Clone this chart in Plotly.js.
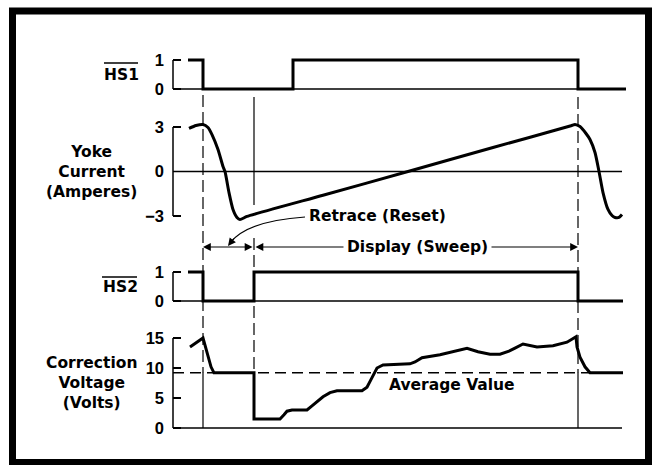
<!DOCTYPE html>
<html>
<head>
<meta charset="utf-8">
<script src="https://cdn.plot.ly/plotly-3.0.1.min.js"></script>
<style>html,body{margin:0;padding:0;background:#fff;}#chart{width:654px;height:465px;}</style>
</head>
<body>
<div id="chart"></div>
<script>
// ---- data (time in arbitrary units along the horizontal line period) ----
const eventTimes = [30, 81, 405];          // retrace start, sweep start, sweep end
const hs1Time  = [15, 30, 120, 405, 453];
const hs1Level = [1, 0, 1, 0, 0];
const hs2Time  = [15, 30, 81, 405, 450];
const hs2Level = [1, 0, 1, 0, 0];
const yokeTime = [16, 23, 30, 35, 39, 45, 50, 52, 56, 60, 64, 67, 74, 150, 235, 320, 398, 402, 407, 413, 417, 422, 426, 430, 435, 439, 442, 446, 449];
const yokeAmps = [2.90, 3.10, 3.17, 2.97, 2.49, 1.48, 0.34, 0, -1.42, -2.56, -3.10, -3.24, -3.03, -1.60, 0, 1.62, 3.08, 3.17, 3.03, 2.56, 2.16, 1.28, 0, -1.42, -2.56, -2.97, -3.10, -3.10, -2.90];
const corrTime  = [17, 30, 32, 35, 38, 41, 81, 81, 107, 111, 114, 119, 134, 139, 145, 150, 157, 164, 189, 194, 199, 204, 210, 237, 242, 249, 267, 280, 294, 305, 317, 327, 336, 342, 350, 364, 380, 394, 403, 404, 407, 412, 417, 450];
const corrVolts = [13.5, 15.0, 13.8, 11.8, 10.2, 9.2, 9.2, 1.5, 1.5, 2.2, 2.8, 3.0, 3.0, 3.7, 4.5, 5.2, 5.9, 6.2, 6.2, 6.8, 8.4, 10.0, 10.5, 10.7, 11.0, 11.7, 12.2, 12.7, 13.3, 12.7, 12.3, 12.3, 12.8, 13.3, 14.0, 13.5, 13.7, 14.3, 15.2, 13.5, 11.8, 10.2, 9.2, 9.2];
const averageValue = 9.2;
const hsTicks = [0, 1], hsTickText = ['0', '1'];
const yokeTicks = [-3, 0, 3], yokeTickText = ['\u22123', '0', '3'];
const corrTicks = [0, 5, 10, 15], corrTickText = ['0', '5', '10', '15'];

// ---- layout helpers (pixel -> paper fraction) ----
const W = 654, H = 465;
const fx = p => p / W;
const fy = p => 1 - p / H;
const dom = (top, bot) => [1 - bot / H, 1 - top / H];
const TICKFONT = 'Liberation Sans, Arial, Helvetica, sans-serif';
const LABELFONT = 'DejaVu Sans, Verdana, sans-serif';
const tickFont = {family: TICKFONT, size: 16.5, color: '#000', weight: 700};
const labelFont = {family: LABELFONT, size: 15.5, color: '#000', weight: 700};

const yCommon = {
  anchor: 'x', showgrid: false, zeroline: false, showline: false,
  ticks: 'inside', ticklen: 8, tickwidth: 1.5, tickcolor: '#000',
  tickfont: tickFont, ticklabelstandoff: 8, fixedrange: true
};

const line = (w) => ({color: '#000', width: w});
const traces = [
  {x: hs1Time, y: hs1Level, xaxis: 'x', yaxis: 'y', mode: 'lines', line: Object.assign(line(3), {shape: 'hv'}), hoverinfo: 'skip'},
  {x: yokeTime, y: yokeAmps, xaxis: 'x', yaxis: 'y2', mode: 'lines', line: Object.assign(line(3), {shape: 'spline', smoothing: 0.6}), hoverinfo: 'skip'},
  {x: hs2Time, y: hs2Level, xaxis: 'x', yaxis: 'y3', mode: 'lines', line: Object.assign(line(3), {shape: 'hv'}), hoverinfo: 'skip'},
  {x: corrTime, y: corrVolts, xaxis: 'x', yaxis: 'y4', mode: 'lines', line: Object.assign(line(3), {shape: 'linear'}), hoverinfo: 'skip'}
];

const shapes = [];
// axis brackets
[['y', 0, 1], ['y2', -3, 3], ['y3', 0, 1], ['y4', 0, 15]].forEach(([ya, a, b]) => {
  shapes.push({type: 'line', xref: 'paper', yref: ya, x0: fx(173), x1: fx(173), y0: a, y1: b, line: line(1.5)});
});
// baselines
[['y', 453], ['y2', 449], ['y3', 450], ['y4', 449]].forEach(([ya, xe]) => {
  shapes.push({type: 'line', xref: 'x', yref: ya, x0: 0, x1: xe, y0: 0, y1: 0, line: line(1.5)});
});
// average value
shapes.push({type: 'line', xref: 'x', yref: 'y4', x0: 0, x1: 450, y0: averageValue, y1: averageValue, line: {color: '#000', width: 1.5, dash: '11px,6px'}});
// vertical event lines
const dashV = {color: '#000', width: 1.2, dash: '12px,5px'};
shapes.push({type: 'line', xref: 'x', yref: 'paper', x0: eventTimes[0], x1: eventTimes[0], y0: fy(95), y1: fy(373), line: dashV});
shapes.push({type: 'line', xref: 'x', yref: 'y4', x0: eventTimes[0], x1: eventTimes[0], y0: averageValue, y1: 0, line: line(1.2)});
shapes.push({type: 'line', xref: 'x', yref: 'paper', x0: eventTimes[1], x1: eventTimes[1], y0: fy(97), y1: fy(205), line: line(1.2)});
shapes.push({type: 'line', xref: 'x', yref: 'paper', x0: eventTimes[1], x1: eventTimes[1], y0: fy(238), y1: fy(373), line: dashV});
shapes.push({type: 'line', xref: 'x', yref: 'paper', x0: eventTimes[2], x1: eventTimes[2], y0: fy(97), y1: fy(373), line: dashV});
shapes.push({type: 'line', xref: 'x', yref: 'y4', x0: eventTimes[2], x1: eventTimes[2], y0: averageValue, y1: 0, line: line(1.2)});
// overlines for HS1 / HS2
shapes.push({type: 'line', xref: 'paper', yref: 'paper', x0: fx(104), x1: fx(138), y0: fy(63), y1: fy(63), line: line(1.5)});
shapes.push({type: 'line', xref: 'paper', yref: 'paper', x0: fx(102), x1: fx(137), y0: fy(277), y1: fy(277), line: line(1.5)});
// retrace leader curve
shapes.push({type: 'path', xref: 'paper', yref: 'paper',
  path: `M ${fx(305)},${fy(217)} Q ${fx(247)},${fy(221)} ${fx(230)},${fy(243)}`, line: line(1.2)});
// frame
shapes.push({type: 'rect', xref: 'paper', yref: 'paper', x0: fx(12.5), x1: fx(648.5), y0: fy(462.5), y1: fy(11), line: line(7)});

const txt = (px, py, text, xanchor) => ({xref: 'paper', yref: 'paper', x: fx(px), y: fy(py), text: text,
  xanchor: xanchor || 'center', yanchor: 'middle', showarrow: false, font: labelFont});

const annotations = [
  txt(121, 75, 'HS1'),
  txt(120, 287, 'HS2'),
  txt(91, 172, 'Yoke<br>Current<br>(Amperes)'),
  txt(91, 383, 'Correction<br>Voltage<br>(Volts)'),
  // retrace double arrow
  {xref: 'x', yref: 'paper', x: eventTimes[0], y: fy(247), axref: 'x', ayref: 'pixel', ax: eventTimes[1], ay: 0,
   text: '', showarrow: true, arrowside: 'end+start', arrowhead: 2, arrowsize: 1.3, arrowwidth: 1.2, arrowcolor: '#000'},
  // display double arrow
  {xref: 'x', yref: 'paper', x: eventTimes[2], y: fy(247), axref: 'x', ayref: 'pixel', ax: eventTimes[1], ay: 0,
   text: '', showarrow: true, arrowside: 'end+start', arrowhead: 2, arrowsize: 1.3, arrowwidth: 1.2, arrowcolor: '#000'},
  // leader arrowhead
  {xref: 'paper', yref: 'paper', x: fx(228), y: fy(246), ax: 7, ay: -9, text: '', showarrow: true,
   arrowhead: 2, arrowsize: 1.3, arrowwidth: 1.2, arrowcolor: '#000'},
  txt(307, 216, 'Retrace (Reset)', 'left'),
  Object.assign(txt(343, 247, 'Display (Sweep)', 'left'), {bgcolor: '#fff', borderpad: 3}),
  txt(387, 385, 'Average Value', 'left')
];

const layout = {
  width: W, height: H, margin: {l: 0, r: 0, t: 0, b: 0},
  paper_bgcolor: '#fff', plot_bgcolor: 'rgba(0,0,0,0)', showlegend: false,
  font: labelFont,
  xaxis: {domain: [fx(173), fx(627)], range: [0, 454], visible: false, fixedrange: true},
  yaxis:  Object.assign({}, yCommon, {domain: dom(55, 94),  range: [-0.172, 1.172], tickvals: hsTicks, ticktext: hsTickText}),
  yaxis2: Object.assign({}, yCommon, {domain: dom(120, 226), range: [-3.674, 3.472], tickvals: yokeTicks, ticktext: yokeTickText}),
  yaxis3: Object.assign({}, yCommon, {domain: dom(267, 306), range: [-0.172, 1.172], tickvals: hsTicks, ticktext: hsTickText}),
  yaxis4: Object.assign({}, yCommon, {domain: dom(330, 434), range: [-1, 16.333], tickvals: corrTicks, ticktext: corrTickText}),
  shapes: shapes, annotations: annotations
};

Plotly.newPlot('chart', traces, layout, {displayModeBar: false, staticPlot: true});
</script>
</body>
</html>
